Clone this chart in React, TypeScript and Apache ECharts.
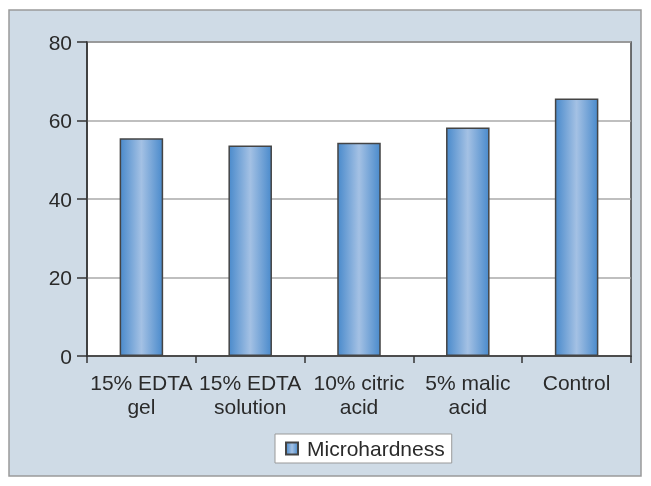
import React, { useEffect, useRef } from "react";
import * as echarts from "echarts";

const categories = ["15% EDTA\ngel", "15% EDTA\nsolution", "10% citric\nacid", "5% malic\nacid", "Control"];
const microhardness = [55.5, 53.6, 54.3, 58.2, 65.6];
const seriesName = "Microhardness";
const yTicks = { min: 0, max: 80, interval: 20 };

export default function App() {
  const ref = useRef<HTMLDivElement>(null);
  useEffect(() => {
    if (!ref.current) return;
    const chart = echarts.init(ref.current, null, { renderer: "svg" });
    const barGradient = new echarts.graphic.LinearGradient(0, 0, 1, 0, [
      { offset: 0, color: "#4b8bcc" },
      { offset: 0.5, color: "#a4c1e4" },
      { offset: 1, color: "#4b8bcc" },
    ]);
    const font = "Liberation Sans, Arial, sans-serif";
    chart.setOption({
      animation: false,
      textStyle: { fontFamily: font },
      graphic: [
        {
          type: "rect",
          z: -10,
          shape: { x: 9, y: 10, width: 632, height: 466 },
          style: { fill: "#cfdbe6", stroke: "#9a9a9a", lineWidth: 1.5 },
        },
      ],
      grid: {
        left: 87,
        top: 42,
        right: 20,
        bottom: 130,
        show: true,
        backgroundColor: "#ffffff",
        borderColor: "#444444",
        borderWidth: 1.5,
      },
      legend: {
        data: [seriesName],
        left: 275,
        top: 434,
        orient: "horizontal",
        icon: "rect",
        itemWidth: 12,
        itemHeight: 12,
        itemGap: 6,
        padding: [4, 7, 4, 10],
        backgroundColor: "#ffffff",
        borderColor: "#999999",
        borderWidth: 1,
        textStyle: { fontSize: 21, color: "#2a2a2a", fontFamily: font, padding: [0, 0, 0, 4] },
      },
      xAxis: {
        type: "category",
        data: categories,
        axisLine: { show: true, lineStyle: { color: "#333333", width: 1.5 } },
        axisTick: { show: true, length: 7, lineStyle: { color: "#333333", width: 1.5 } },
        axisLabel: {
          fontSize: 21,
          color: "#2a2a2a",
          margin: 14,
          lineHeight: 24,
          interval: 0,
          fontFamily: font,
        },
      },
      yAxis: {
        type: "value",
        min: yTicks.min,
        max: yTicks.max,
        interval: yTicks.interval,
        axisLine: { show: true, lineStyle: { color: "#333333", width: 1.5 } },
        axisTick: { show: true, length: 10, lineStyle: { color: "#333333", width: 1.5 } },
        axisLabel: { fontSize: 21, color: "#2a2a2a", margin: 15, fontFamily: font },
        splitLine: { show: true, lineStyle: { color: "#aaaaaa", width: 1.5 } },
      },
      series: [
        {
          name: seriesName,
          type: "bar",
          data: microhardness,
          barWidth: "40%",
          itemStyle: { color: barGradient, borderColor: "#444444", borderWidth: 1.5 },
        },
      ],
    });
    return () => chart.dispose();
  }, []);
  return (
    <div
      ref={ref}
      style={{ position: "fixed", left: 0, top: 0, width: 651, height: 486 }}
    />
  );
}
